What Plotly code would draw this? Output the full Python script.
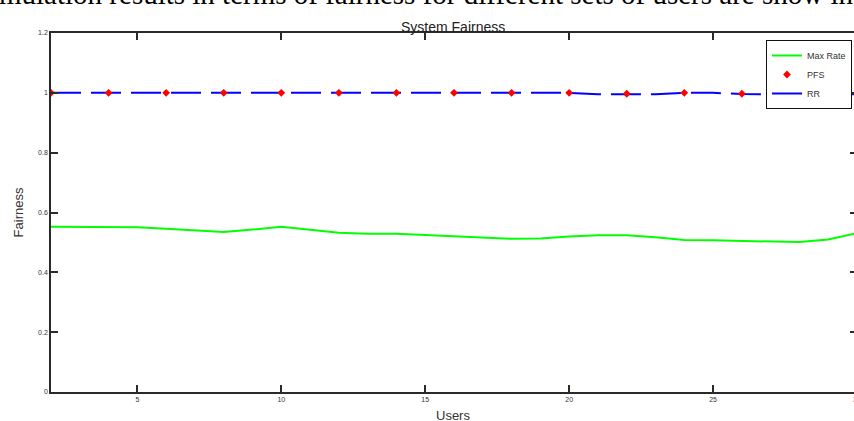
import plotly.graph_objects as go

# ---- data ----
users = [2, 3, 4, 5, 6, 7, 8, 9, 10, 11, 12, 13, 14, 15, 16, 17, 18, 19, 20,
         21, 22, 23, 24, 25, 26, 27, 28, 29, 30]
max_rate = [0.552, 0.552, 0.552, 0.551, 0.546, 0.541, 0.535, 0.543, 0.552, 0.542,
            0.532, 0.529, 0.529, 0.525, 0.521, 0.517, 0.512, 0.513, 0.520, 0.524,
            0.524, 0.517, 0.508, 0.507, 0.505, 0.501, 0.501, 0.510, 0.531]
rr = [1.0, 1.0, 1.0, 1.0, 1.0, 1.0, 1.0, 1.0, 1.0, 1.0,
      1.0, 1.0, 1.0, 1.0, 1.0, 1.0, 1.0, 1.0, 1.0, 0.995,
      0.995, 0.995, 1.0, 1.0, 0.996, 0.995, 0.998, 0.995, 0.995]
pfs_users = [2, 4, 6, 8, 10, 12, 14, 16, 18, 20, 22, 24, 26, 28, 30]
pfs = [1.0, 1.0, 1.0, 1.0, 1.0, 1.0, 1.0, 1.0, 1.0, 1.0, 0.997, 1.0, 0.997, 1.0, 0.997]

y_ticks = [0, 0.2, 0.4, 0.6, 0.8, 1.0, 1.2]
x_ticks = [5, 10, 15, 20, 25, 30]

title_text = "System Fairness"
x_title = "Users"
y_title = "Fairness"
page_text = "mulation results in terms of fairness for different sets of users are show in"

AX = "#2a2a2a"
FONT = "Liberation Sans, Arial, sans-serif"

L, R, T, B = 51, 5, 33, 29
W, H = 862, 421
PW = W - L - R
PH = H - T - B

fig = go.Figure()
fig.add_trace(go.Scatter(x=users, y=max_rate, mode="lines", name="Max Rate",
                         line=dict(color="#00ff00", width=2), legendrank=1))
fig.add_trace(go.Scatter(x=users, y=rr, mode="lines", name="RR",
                         line=dict(color="#0000ff", width=2, dash="30px,10px"),
                         legendrank=3))
fig.add_trace(go.Scatter(x=pfs_users, y=pfs, mode="markers", name="PFS",
                         marker=dict(symbol="diamond", color="#ff0000", size=6,
                                     line=dict(width=0)),
                         legendrank=2))
# invisible trace so the right-hand tick axis is drawn
fig.add_trace(go.Scatter(x=[], y=[], yaxis="y2", showlegend=False,
                         hoverinfo="skip"))

fig.update_layout(
    width=W, height=H, autosize=False,
    margin=dict(l=L, r=R, t=T, b=B),
    paper_bgcolor="white", plot_bgcolor="white",
    font=dict(family=FONT, color="#222", size=7),
    showlegend=True,
    legend=dict(x=(852 - L) / PW, xanchor="right",
                y=(H - B - 40) / PH, yanchor="top",
                bordercolor="#111", borderwidth=1, bgcolor="white",
                font=dict(size=9, family=FONT, color="#333"),
                tracegroupgap=0, itemwidth=30),
    xaxis=dict(range=[2, 30], tickvals=x_ticks, ticks="inside", ticklen=7,
               tickwidth=1.5, tickcolor=AX, showline=True, linecolor=AX,
               linewidth=1.5, mirror="ticks", showgrid=False, zeroline=False,
               automargin=False, tickfont=dict(size=7, color="#333")),
    yaxis=dict(range=[0, 1.2], tickvals=y_ticks, ticks="inside", ticklen=7,
               tickwidth=1.5, tickcolor=AX, showline=True, linecolor=AX,
               linewidth=1.5, showgrid=False, zeroline=False, automargin=False,
               tickfont=dict(size=7, color="#333"),
               title=dict(text=y_title, font=dict(size=13, color="#333"),
                          standoff=12)),
    yaxis2=dict(range=[0, 1.2], tickvals=y_ticks, ticks="inside", ticklen=7,
                tickwidth=1.5, tickcolor=AX, overlaying="y", side="right",
                showticklabels=False, showline=False, showgrid=False,
                zeroline=False, automargin=False),
    annotations=[
        dict(text=title_text, xref="paper", yref="paper", x=(453 - L) / PW, y=1,
             xanchor="center", yanchor="bottom", yshift=-4, showarrow=False,
             font=dict(size=14, family=FONT, color="#222")),
        dict(text=x_title, xref="paper", yref="paper", x=(453 - L) / PW, y=0,
             xanchor="center", yanchor="top", yshift=-14, showarrow=False,
             font=dict(size=13, family=FONT, color="#333")),
        dict(text=page_text, xref="paper", yref="paper", x=-L / PW, y=1,
             xanchor="left", yanchor="bottom", xshift=-3, yshift=21,
             showarrow=False,
             font=dict(size=29, family="Liberation Serif, Times New Roman, serif",
                       color="#000")),
    ],
)

fig.write_html(
    "out.html",
    config={"displayModeBar": False},
    post_script="document.body.style.margin='0';document.body.style.overflow='hidden';",
)
